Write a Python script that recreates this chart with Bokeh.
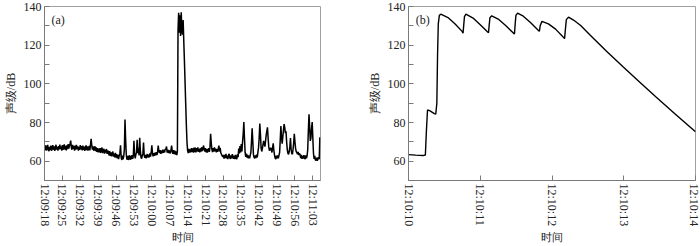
import numpy as np
from bokeh.plotting import figure
from bokeh.layouts import row
from bokeh.models import FixedTicker, Range1d, Label
from bokeh.embed import file_html
from bokeh.resources import INLINE

# ---------------- data ----------------
# Panel (a): sound level sampled every 0.25 s starting at 12:09:18
a_step = 0.25
a_vals = [
    67.5, 65.6, 68.2, 65.5, 66.8, 68.4, 65.8, 65.2, 67.4, 65.7, 68.0, 65.4, 66.9, 68.3, 65.9, 67.6, 65.3, 66.8, 68.5, 66.0,
    67.4, 65.5, 67.8, 66.1, 68.6, 66.3, 67.7, 65.4, 68.3, 65.8, 67.5, 68.7, 66.0, 67.9, 65.6, 68.2, 66.2, 68.8, 66.5, 68.0,
    69.0, 70.6, 67.2, 65.9, 68.4, 66.4, 67.9, 65.5, 68.1, 66.0, 68.5, 66.2, 67.7, 65.4, 67.4, 65.8, 68.3, 66.1, 67.8, 65.6,
    68.0, 65.9, 67.5, 65.3, 66.9, 68.2, 65.7, 67.7, 65.5, 66.7, 67.9, 65.6, 68.5, 71.6, 68.0, 66.0, 67.6, 65.4, 66.6, 67.7,
    65.2, 67.2, 64.8, 66.8, 64.5, 66.5, 64.6, 66.7, 64.3, 66.2, 67.0, 64.2, 65.8, 66.4, 63.9, 65.9, 64.4, 66.3, 63.8, 65.5,
    64.9, 63.0, 65.2, 62.7, 64.6, 62.5, 64.2, 65.0, 62.3, 63.9, 62.0, 64.3, 61.8, 63.7, 61.4, 63.3, 61.1, 63.0, 64.0, 68.2,
    62.0, 60.6, 62.9, 60.9, 62.6, 66.0, 81.5, 71.0, 63.5, 60.8, 62.8, 60.6, 62.2, 63.0, 60.7, 62.7, 61.0, 63.1, 61.2, 62.8,
    70.6, 63.5, 61.4, 63.4, 64.5, 71.0, 64.2, 66.8, 63.0, 72.1, 65.5, 62.1, 61.3, 62.8, 63.9, 69.6, 63.2, 61.7, 63.2, 61.5,
    62.9, 63.7, 61.8, 63.4, 62.0, 64.0, 62.4, 64.5, 68.2, 64.3, 62.5, 64.1, 62.7, 64.4, 63.0, 64.6, 63.2, 64.8, 68.0, 65.2,
    64.2, 65.7, 63.8, 65.4, 64.1, 66.0, 64.3, 65.8, 64.5, 66.2, 66.2, 67.6, 64.4, 65.9, 64.2, 65.6, 64.6, 64.0, 66.0, 68.0,
    65.0, 63.8, 65.7, 63.6, 65.5, 63.4, 65.0, 63.1, 64.9, 128.0, 136.8, 126.5, 135.5, 124.8, 137.0, 127.5, 125.5, 133.0, 122.0, 112.0,
    101.0, 90.0, 79.0, 70.0, 65.5, 64.2, 66.4, 64.4, 66.1, 64.5, 66.8, 64.8, 66.6, 64.4, 67.0, 64.7, 67.0, 64.6, 66.7, 65.1,
    67.1, 64.8, 66.4, 64.5, 66.8, 64.9, 67.2, 65.2, 66.5, 68.1, 66.0, 65.0, 66.7, 64.6, 66.2, 64.4, 66.0, 66.7, 64.8, 67.0,
    74.2, 69.5, 66.0, 64.7, 66.8, 64.9, 67.1, 65.1, 66.5, 64.5, 66.2, 64.8, 66.6, 68.0, 65.0, 66.9, 64.3, 63.6, 62.8, 62.2,
    63.2, 61.3, 63.3, 61.6, 63.8, 61.4, 62.9, 61.1, 63.1, 63.8, 61.7, 61.2, 63.0, 61.5, 63.6, 61.9, 61.3, 62.8, 61.1, 63.2,
    61.6, 61.0, 63.5, 62.1, 66.5, 64.0, 67.8, 64.5, 68.9, 65.0, 70.0, 74.0, 80.2, 72.0, 64.5, 62.2, 63.9, 61.8, 63.2, 61.5,
    62.9, 61.4, 63.0, 64.5, 70.0, 77.0, 70.5, 63.5, 62.0, 61.5, 63.0, 61.6, 63.4, 62.0, 64.5, 67.0, 72.0, 79.5, 74.0, 67.0,
    65.0, 66.5, 68.5, 70.5, 69.0, 67.5, 70.5, 73.5, 75.5, 77.5, 72.0, 67.5, 65.5, 66.0, 67.0, 66.0, 64.5, 67.0, 69.2, 65.5,
    63.2, 61.6, 61.1, 62.8, 61.4, 63.0, 61.5, 63.0, 64.5, 71.0, 78.2, 72.5, 69.0, 72.5, 76.0, 79.2, 77.5, 74.5, 75.5, 70.0,
    66.0, 64.0, 63.5, 65.0, 67.5, 72.0, 66.0, 64.0, 63.6, 66.0, 69.5, 74.2, 70.0, 66.5, 65.0, 64.5, 63.6, 64.8, 63.2, 64.0,
    63.4, 61.6, 63.2, 61.2, 62.7, 61.4, 63.1, 61.6, 61.1, 63.0, 61.5, 62.8, 66.0, 76.0, 84.2, 78.0, 70.5, 72.0, 77.0, 80.2,
    72.0, 64.0, 61.1, 62.8, 60.6, 60.4, 61.8, 60.2, 61.5, 62.0, 61.0, 72.3,
]
a_times = [i * a_step for i in range(len(a_vals))]
a_tick_secs = [0, 7, 14, 21, 28, 35, 42, 49, 56, 63, 70, 77, 84, 91, 98, 105]
a_tick_labels = ["12:09:18", "12:09:25", "12:09:32", "12:09:39", "12:09:46", "12:09:53",
                 "12:10:00", "12:10:07", "12:10:14", "12:10:21", "12:10:28", "12:10:35",
                 "12:10:42", "12:10:49", "12:10:56", "12:11:03"]

# Panel (b): seconds after 12:10:10
b_times = [0.00, 0.10, 0.20, 0.235, 0.25, 0.265, 0.30, 0.36, 0.38, 0.395, 0.405, 0.415, 0.43, 0.45,
           0.55, 0.65, 0.75, 0.76, 0.77, 0.78, 0.80,
           0.90, 1.00, 1.10, 1.115, 1.125, 1.135, 1.16,
           1.25, 1.35, 1.465, 1.477, 1.487, 1.497, 1.52,
           1.60, 1.70, 1.815, 1.825, 1.835, 1.86,
           1.95, 2.05, 2.175, 2.185, 2.20, 2.23,
           2.30, 2.40, 2.53, 2.76, 2.99, 3.22, 3.45, 3.72, 4.00]
b_vals = [63.4, 63.1, 62.9, 63.2, 76.0, 86.5, 86.0, 84.6, 84.3, 90.0, 115.0, 131.0, 135.4, 136.0,
          134.3, 131.0, 127.0, 126.2, 130.5, 134.8, 136.0,
          134.0, 130.6, 126.9, 126.4, 130.5, 134.2, 135.2,
          133.5, 130.3, 126.1, 125.8, 131.0, 135.4, 136.6,
          135.0, 131.7, 127.4, 127.2, 130.0, 132.3,
          131.0, 128.3, 123.4, 127.5, 133.2, 134.5,
          133.0, 130.2, 125.3, 116.9, 108.8, 100.9, 93.2, 84.3, 75.2]
b_tick_secs = [0, 1, 2, 3, 4]
b_tick_labels = ["12:10:10", "12:10:11", "12:10:12", "12:10:13", "12:10:14"]

y_major = [60, 80, 100, 120, 140]
y_minor = [70, 90, 110, 130]

SERIF = "Liberation Serif"
TXT = "#222222"
AX = "#7a7a7a"


def make_fig(width, left, right, xr, ticks, labels, ylab_x, tag):
    p = figure(width=width, height=246, output_backend="svg", toolbar_location=None,
               x_range=Range1d(*xr), y_range=Range1d(50, 140),
               min_border_left=left, min_border_right=right,
               min_border_top=6, min_border_bottom=61)
    p.background_fill_color = "white"
    p.border_fill_color = "white"
    p.outline_line_color = "#a0a0a0"
    p.xgrid.visible = False
    p.ygrid.visible = False
    for ax in (p.xaxis[0], p.yaxis[0]):
        ax.axis_line_color = AX
        ax.major_tick_line_color = AX
        ax.minor_tick_line_color = AX
        ax.major_tick_in = 5
        ax.major_tick_out = 0
        ax.minor_tick_in = 5
        ax.minor_tick_out = 0
        ax.major_label_text_font = SERIF
        ax.major_label_text_font_size = "12px"
        ax.major_label_text_color = TXT
        ax.axis_label_text_font = SERIF
        ax.axis_label_text_font_style = "normal"
        ax.axis_label_text_color = TXT
    p.xaxis[0].ticker = FixedTicker(ticks=ticks)
    p.xaxis[0].major_label_overrides = {t: l for t, l in zip(ticks, labels)}
    p.xaxis[0].major_label_orientation = "vertical"
    p.xaxis[0].major_label_standoff = 3
    p.xaxis[0].axis_label = "时间"
    p.xaxis[0].axis_label_text_font_size = "11px"
    p.xaxis[0].axis_label_standoff = 2
    p.yaxis[0].ticker = FixedTicker(ticks=y_major, minor_ticks=y_minor)
    p.yaxis[0].major_label_standoff = 3
    p.yaxis[0].axis_label = "声级/dB"
    p.yaxis[0].axis_label_text_font_size = "12px"
    p.yaxis[0].axis_label_standoff = 3
    p.add_layout(Label(x=ylab_x, y=136.5, text=tag, text_font=SERIF, text_font_size="12px",
                       text_color=TXT, text_baseline="top", text_align="left"))
    return p


pa = make_fig(350, 34, 30, (0, 108), a_tick_secs, a_tick_labels, 2.7, "(a)")
pa.line(a_times, a_vals, line_color="black", line_width=1.5)

pb = make_fig(350, 58, 5, (0, 4), b_tick_secs, b_tick_labels, 0.1, "(b)")
pb.line(b_times, b_vals, line_color="black", line_width=1.4)

layout = row(pa, pb)
open("out.html", "w").write(file_html(layout, INLINE))
